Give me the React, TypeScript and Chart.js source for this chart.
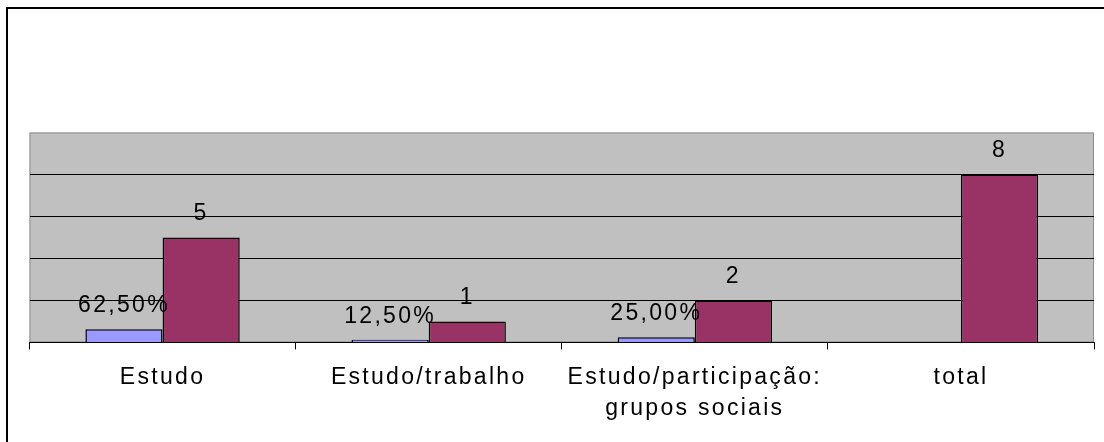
import React, { useEffect, useRef } from "react";
import { Chart, registerables } from "chart.js";

Chart.register(...registerables);

const categories: (string | string[])[] = [
  "Estudo",
  "Estudo/trabalho",
  ["Estudo/participação:", "grupos sociais"],
  "total",
];
const shareValues: (number | null)[] = [0.625, 0.125, 0.25, null];
const countValues: number[] = [5, 1, 2, 8];
const yTicks: number[] = [0, 2, 4, 6, 8, 10];

const FONT = "'Liberation Sans', Arial, sans-serif";
const FONT_SIZE = 23;
const SPACING = "2.3px";

const plotAreaPlugin = {
  id: "plotArea",
  beforeDraw(chart: any) {
    const { ctx, chartArea: a } = chart;
    ctx.save();
    ctx.fillStyle = "#C0C0C0";
    ctx.fillRect(a.left, a.top, a.right - a.left, a.bottom - a.top);
    ctx.strokeStyle = "#8c8c8c";
    ctx.lineWidth = 1;
    ctx.strokeRect(a.left + 0.5, a.top + 0.5, a.right - a.left - 1, a.bottom - a.top - 1);
    ctx.restore();
    ctx.letterSpacing = SPACING;
  },
  afterDraw(chart: any) {
    chart.ctx.letterSpacing = "0px";
  },
};

const labelPlugin = {
  id: "valueLabels",
  afterDatasetsDraw(chart: any) {
    const ctx = chart.ctx;
    ctx.save();
    ctx.font = `${FONT_SIZE}px ${FONT}`;
    ctx.fillStyle = "#000";
    ctx.textAlign = "center";
    ctx.textBaseline = "alphabetic";
    ctx.letterSpacing = SPACING;
    chart.data.datasets.forEach((ds: any, i: number) => {
      const meta = chart.getDatasetMeta(i);
      meta.data.forEach((el: any, j: number) => {
        const v = ds.data[j];
        if (v == null) return;
        const text =
          i === 0 ? (v * 100).toFixed(2).replace(".", ",") + "%" : String(v);
        ctx.fillText(text, el.x, el.y - 17);
      });
    });
    ctx.restore();
  },
};

export default function App() {
  const ref = useRef<HTMLCanvasElement | null>(null);

  useEffect(() => {
    if (!ref.current) return;
    const chart = new Chart(ref.current, {
      type: "bar",
      data: {
        labels: categories,
        datasets: [
          {
            label: "%",
            data: shareValues,
            backgroundColor: "#9999FF",
            borderColor: "#000",
            borderWidth: 1.5,
            categoryPercentage: 0.58,
            barPercentage: 1,
          },
          {
            label: "n",
            data: countValues,
            backgroundColor: "#993366",
            borderColor: "#000",
            borderWidth: 1.5,
            categoryPercentage: 0.58,
            barPercentage: 1,
          },
        ],
      },
      options: {
        responsive: false,
        animation: false,
        layout: { padding: { top: 132.5, left: 29.5, right: 10, bottom: 4.5 } },
        plugins: {
          legend: { display: false },
          tooltip: { enabled: false },
        },
        scales: {
          x: {
            grid: {
              display: true,
              drawOnChartArea: false,
              drawTicks: true,
              tickLength: 7,
              color: "#000",
              offset: true,
            },
            border: { display: true, color: "#000", width: 1 },
            ticks: {
              color: "#000",
              font: { family: FONT, size: FONT_SIZE, lineHeight: 1.35 },
              padding: 13,
              maxRotation: 0,
              autoSkip: false,
            },
          },
          y: {
            min: 0,
            max: 10,
            afterBuildTicks: (s: any) => {
              s.ticks = yTicks.map((v) => ({ value: v }));
            },
            ticks: { display: false },
            grid: {
              drawTicks: false,
              color: (c: any) => (c.tick && c.tick.value === 10 ? "rgba(0,0,0,0)" : "#000"),
            },
            border: { display: false },
          },
        },
      },
      plugins: [plotAreaPlugin, labelPlugin],
    });
    return () => chart.destroy();
  }, []);

  return (
    <>
      <div
        style={{
          position: "fixed",
          left: 6,
          top: 7,
          width: 1200,
          height: 500,
          border: "2px solid #000",
          boxSizing: "border-box",
        }}
      />
      <canvas
        ref={ref}
        width={1104}
        height={442}
        style={{ position: "fixed", left: 0, top: 0, width: 1104, height: 442 }}
      />
    </>
  );
}
